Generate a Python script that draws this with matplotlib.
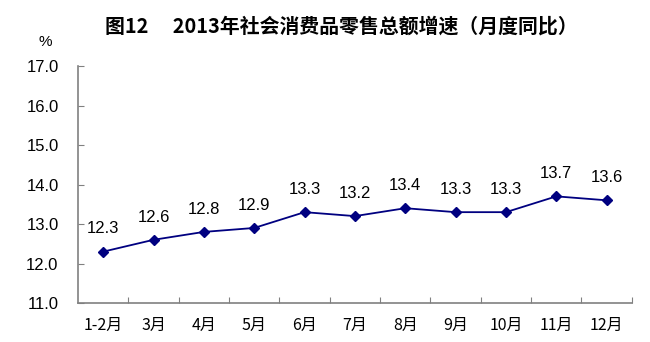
import matplotlib
matplotlib.use("Agg")
import matplotlib.pyplot as plt

plt.rcParams["font.family"] = ["Liberation Sans", "Noto Sans CJK SC", "DejaVu Sans"]

months = ["1-2月", "3月", "4月", "5月", "6月", "7月", "8月", "9月", "10月", "11月", "12月"]
growth = [12.3, 12.6, 12.8, 12.9, 13.3, 13.2, 13.4, 13.3, 13.3, 13.7, 13.6]
yticks = [11.0, 12.0, 13.0, 14.0, 15.0, 16.0, 17.0]

navy = "#000080"
axis_grey = "#808080"

fig = plt.figure(figsize=(6.5, 3.42), dpi=100)
ax = fig.add_axes([0.12, 0.114, 0.852, 0.693])

x = list(range(len(months)))
ax.plot(x, growth, color=navy, linewidth=1.3, marker="D", markersize=5.5,
        markerfacecolor=navy, markeredgecolor=navy)
for xi, v in zip(x, growth):
    ax.annotate(f"{v:.1f}", (xi, v), xytext=(0, 11), textcoords="offset points",
                ha="center", va="bottom", fontsize=12, color="black")

ax.set_xlim(-0.5, len(months) - 0.5)
ax.set_ylim(11.0, 17.0)
ax.set_yticks(yticks)
ax.set_yticklabels([f"{t:.1f}" for t in yticks], fontsize=12)
ax.tick_params(axis="y", direction="in", length=4, color=axis_grey, pad=14)

# category boundaries carry the tick marks, labels sit under the centres
ax.set_xticks([i + 0.5 for i in x], minor=False)
ax.set_xticklabels([])
ax.set_xticks(x, minor=True)
ax.set_xticklabels(months, minor=True, fontsize=11.5,
                   family=["Noto Sans CJK SC", "DejaVu Sans"])
ax.tick_params(axis="x", which="major", direction="in", length=4, color=axis_grey)
ax.tick_params(axis="x", which="minor", length=0, pad=10)

for side in ("top", "right"):
    ax.spines[side].set_visible(False)
for side in ("left", "bottom"):
    ax.spines[side].set_color(axis_grey)
    ax.spines[side].set_linewidth(1.2)

fig.text(0.525, 0.925, "图12\u3000 2013年社会消费品零售总额增速（月度同比）",
         ha="center", va="center", fontsize=14.3, fontweight="bold",
         family=["Noto Sans CJK SC", "DejaVu Sans"])
fig.text(0.07, 0.877, "%", ha="center", va="center", fontsize=11)

fig.savefig("out.png", dpi=100)
plt.close(fig)
